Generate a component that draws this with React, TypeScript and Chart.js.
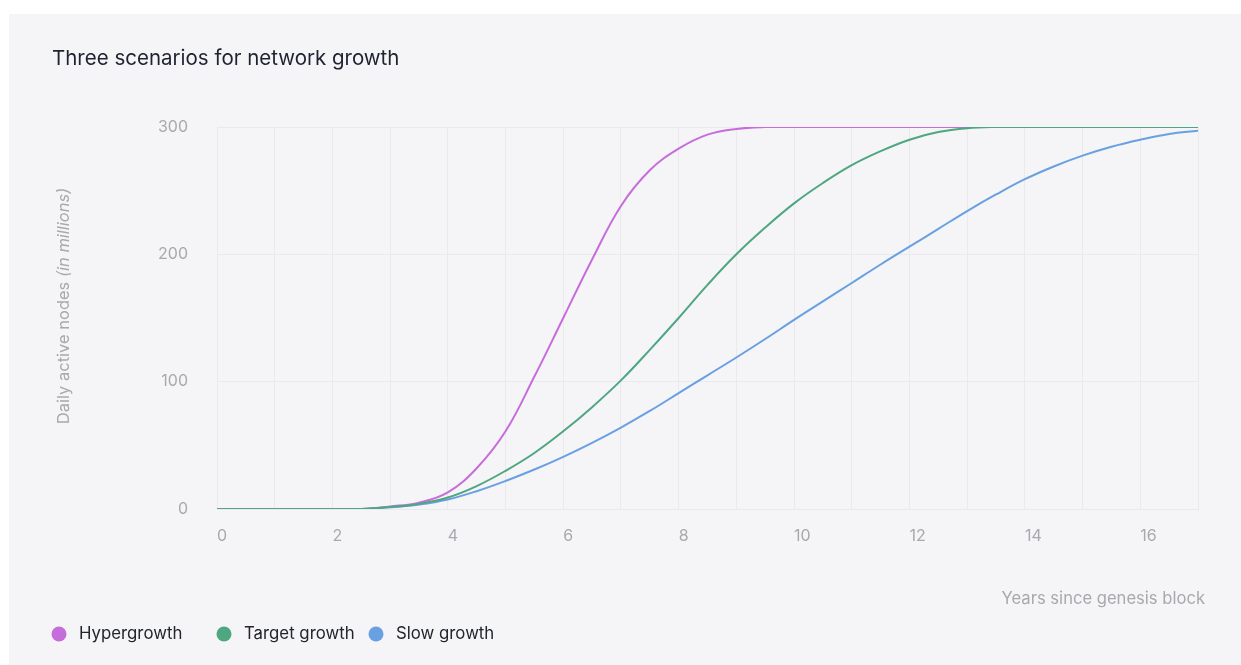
import React, { useEffect, useRef } from "react";
import { Chart, registerables } from "chart.js";

Chart.register(...registerables);

// ---- Data ----
const years = [
  0, 0.5, 1, 1.5, 2, 2.5, 3, 3.5, 4, 4.5, 5, 5.5, 6, 6.5, 7, 7.5, 8, 8.5, 9, 9.5,
  10, 10.5, 11, 11.5, 12, 12.5, 13, 13.5, 14, 14.5, 15, 15.5, 16, 16.5, 17,
];
const hypergrowth = [
  0, 0, 0, 0, 0, 0, 2, 5, 13, 32, 61, 104, 150, 196, 238, 266, 283, 294, 298.5, 300,
  300, 300, 300, 300, 300, 300, 300, 300, 300, 300, 300, 300, 300, 300, 300,
];
const targetGrowth = [
  0, 0, 0, 0, 0, 0, 1.5, 4, 9, 18, 30, 44, 61, 80, 101, 125, 150, 176, 200, 221,
  240, 256, 270, 281, 290, 296, 299, 300, 300, 300, 300, 300, 300, 300, 300,
];
const slowGrowth = [
  0, 0, 0, 0, 0, 0, 1.3, 3.5, 7.5, 14, 22, 31, 41, 52, 64, 77, 91, 105, 119, 133.5,
  148.5, 163, 177.5, 192, 206, 220, 234, 247, 259, 269, 277.5, 284.5, 290, 294.5, 297,
];
const xLabelValues = [0, 2, 4, 6, 8, 10, 12, 14, 16];
const yTickValues = [0, 100, 200, 300];
const seriesNames = ["Hypergrowth", "Target growth", "Slow growth"];
const seriesColors = ["#c66ddb", "#4ea780", "#68a0e2"];
const chartTitle = "Three scenarios for network growth";
const yTitleMain = "Daily active nodes ";
const yTitleItalic = "(in millions)";
const xTitle = "Years since genesis block";

const FONT = "Inter, 'Noto Sans', sans-serif";

const decorPlugin = {
  id: "decor",
  beforeDraw(chart: any) {
    const ctx = chart.ctx;
    ctx.save();
    ctx.fillStyle = "#ffffff";
    ctx.fillRect(0, 0, chart.width, chart.height);
    ctx.fillStyle = "#f5f5f7";
    ctx.fillRect(9, 14, chart.width - 9, chart.height - 14);
    ctx.restore();
  },
  afterDraw(chart: any) {
    const ctx = chart.ctx;
    const area = chart.chartArea;
    ctx.save();
    // Title
    ctx.fillStyle = "#1f2331";
    ctx.font = `400 20.5px ${FONT}`;
    ctx.textAlign = "left";
    ctx.textBaseline = "middle";
    ctx.fillText(chartTitle, 52, 59);

    // Y axis title (rotated, mixed style)
    ctx.fillStyle = "#a9a9ad";
    const normalFont = `400 16.5px ${FONT}`;
    const italicFont = `italic 400 16.5px ${FONT}`;
    ctx.font = normalFont;
    const w1 = ctx.measureText(yTitleMain).width;
    ctx.font = italicFont;
    const w2 = ctx.measureText(yTitleItalic).width;
    const total = w1 + w2;
    ctx.save();
    ctx.translate(64, (area.top + area.bottom) / 2 - 12);
    ctx.rotate(-Math.PI / 2);
    ctx.textAlign = "left";
    ctx.textBaseline = "middle";
    ctx.font = normalFont;
    ctx.fillText(yTitleMain, -total / 2, 0);
    ctx.font = italicFont;
    ctx.fillText(yTitleItalic, -total / 2 + w1, 0);
    ctx.restore();

    // X axis title
    ctx.font = `400 16.6px ${FONT}`;
    ctx.fillStyle = "#a9a9ad";
    ctx.textAlign = "right";
    ctx.textBaseline = "middle";
    ctx.fillText(xTitle, area.right + 7, 599);

    // Legend
    const legendX = [59, 224, 376];
    const legendY = 634;
    ctx.font = `400 16.8px ${FONT}`;
    ctx.textAlign = "left";
    ctx.textBaseline = "middle";
    seriesNames.forEach((name, i) => {
      ctx.fillStyle = seriesColors[i];
      ctx.beginPath();
      ctx.arc(legendX[i], legendY, 7.5, 0, Math.PI * 2);
      ctx.fill();
      ctx.fillStyle = "#22252d";
      ctx.fillText(name, legendX[i] + 20, legendY);
    });
    ctx.restore();
  },
};

function toPoints(values: number[]) {
  return values.map((v, i) => ({ x: years[i], y: v }));
}

export default function App() {
  const canvasRef = useRef<HTMLCanvasElement | null>(null);

  useEffect(() => {
    if (!canvasRef.current) return;
    const seriesValues = [hypergrowth, targetGrowth, slowGrowth];
    const drawOrder = [2, 0, 1];
    const chart = new Chart(canvasRef.current, {
      type: "line",
      data: {
        datasets: seriesNames.map((name, i) => ({
          label: name,
          data: toPoints(seriesValues[i]),
          borderColor: seriesColors[i],
          backgroundColor: seriesColors[i],
          borderWidth: 2,
          pointRadius: 0,
          pointHoverRadius: 0,
          tension: 0.4,
          fill: false,
          order: drawOrder[i],
        })),
      },
      options: {
        animation: false,
        responsive: false,
        maintainAspectRatio: false,
        events: [],
        layout: { padding: { left: 0, top: 127, right: 43, bottom: 0 } },
        plugins: {
          legend: { display: false },
          title: { display: false },
          tooltip: { enabled: false },
        },
        scales: {
          x: {
            type: "linear",
            min: 0,
            max: 17,
            afterFit: (scale: any) => {
              scale.height = 156;
            },
            afterBuildTicks: (scale: any) => {
              const t = [];
              for (let v = 0; v <= 17; v++) t.push({ value: v });
              scale.ticks = t;
            },
            ticks: {
              autoSkip: false,
              maxRotation: 0,
              align: "start",
              padding: 18,
              color: "#a9a9ad",
              font: { family: FONT, size: 16 },
              callback: (v: any) => (xLabelValues.includes(Number(v)) ? String(v) : ""),
            },
            grid: { color: "#eaeaed", drawTicks: false, lineWidth: 1 },
            border: { display: true, color: "#eaeaed" },
          },
          y: {
            type: "linear",
            min: 0,
            max: 300,
            afterFit: (scale: any) => {
              scale.width = 217;
            },
            afterBuildTicks: (scale: any) => {
              scale.ticks = yTickValues.map((v) => ({ value: v }));
            },
            ticks: {
              padding: 29,
              color: "#a9a9ad",
              font: { family: FONT, size: 16 },
            },
            grid: { color: "#eaeaed", drawTicks: false, lineWidth: 1 },
            border: { display: true, color: "#eaeaed" },
          },
        },
      },
      plugins: [decorPlugin],
    });
    return () => chart.destroy();
  }, []);

  return (
    <div style={{ position: "fixed", left: 0, top: 0, width: 1241, height: 665 }}>
      <canvas ref={canvasRef} width={1241} height={665} style={{ display: "block" }} />
    </div>
  );
}
